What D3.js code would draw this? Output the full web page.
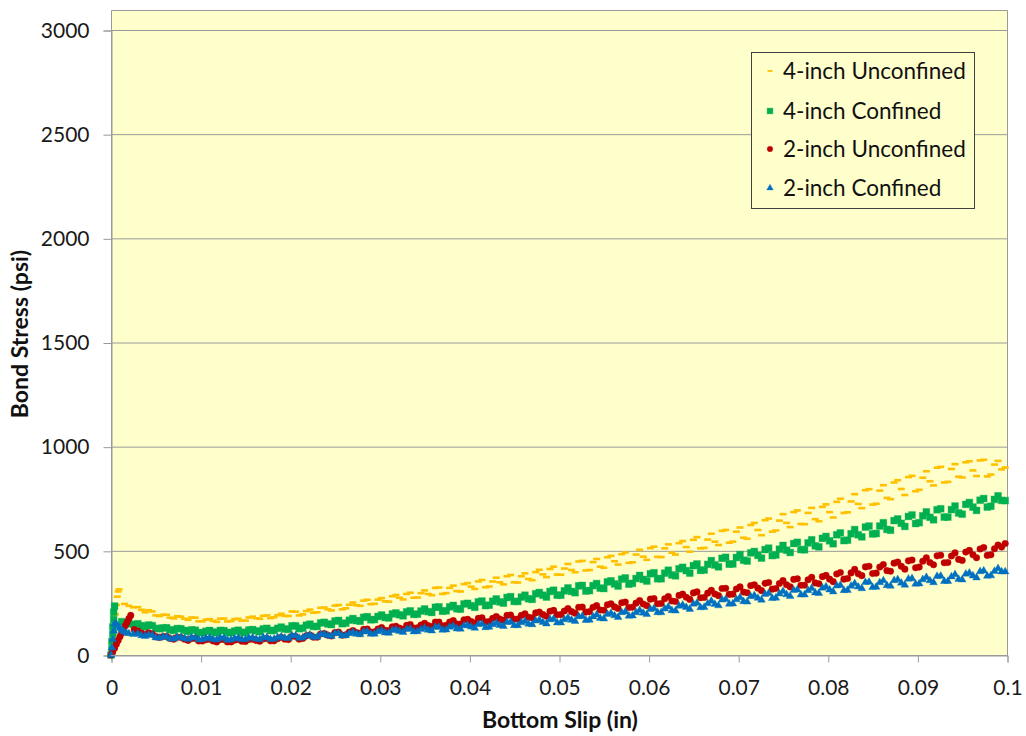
<!DOCTYPE html>
<html>
<head>
<meta charset="utf-8">
<script src="https://cdn.jsdelivr.net/npm/d3@7/dist/d3.min.js"></script>
<style>
  html, body { margin: 0; padding: 0; background: #ffffff; }
  svg { display: block; font-family: Lato, "Open Sans", sans-serif; }
</style>
</head>
<body>
<svg id="chart" width="1026" height="736"></svg>
<script>
// ---- series names and tick values ----
const seriesNames = ["4-inch Unconfined", "4-inch Confined", "2-inch Unconfined", "2-inch Confined"];
const xTicks = [0, 0.01, 0.02, 0.03, 0.04, 0.05, 0.06, 0.07, 0.08, 0.09, 0.1];
const xTickLabels = ["0", "0.01", "0.02", "0.03", "0.04", "0.05", "0.06", "0.07", "0.08", "0.09", "0.1"];
const yTicks = [0, 500, 1000, 1500, 2000, 2500, 3000];

// ---- initial loading branch of each test (slip in inches, bond stress in psi) ----
const unconf4StartSlip   = [0, 0.0001, 0.0002, 0.0003, 0.0004, 0.0005, 0.0006, 0.0007, 0.0008, 0.0009, 0.0015, 0.002, 0.0025];
const unconf4StartStress = [0, 30, 70, 110, 150, 195, 240, 280, 305, 315, 245, 236, 229];
const conf4StartSlip     = [0, 0.0001, 0.0001, 0.0002, 0.0002, 0.0003, 0.0003, 0.0004, 0.0012, 0.0016, 0.002, 0.0025];
const conf4StartStress   = [0, 30, 65, 100, 135, 170, 205, 235, 160, 155, 150, 147];
const unconf2StartSlip   = [0, 0.0002, 0.0004, 0.0006, 0.0008, 0.001, 0.0012, 0.0014, 0.0016, 0.0018, 0.002, 0.0022, 0.0026];
const unconf2StartStress = [0, 15, 33, 52, 70, 88, 105, 122, 140, 157, 175, 190, 122];
const conf2StartSlip     = [0, 0.0001, 0.0002, 0.0003, 0.0004, 0.0006, 0.0008, 0.001, 0.0012, 0.0014, 0.0017, 0.002, 0.0025];
const conf2StartStress   = [0, 35, 75, 115, 150, 148, 138, 128, 120, 113, 107, 103, 100];

// ---- slip readings after the peak, first pass (shared by all four tests) ----
const slipReadings = [
  0.003,0.0038,0.0046,0.0054,0.0062, 0.007,0.0078,0.0086,0.0094,0.0102,
  0.011,0.0118,0.0126,0.0134,0.0142, 0.015,0.0158,0.0166,0.0174,0.0182,
  0.019,0.0198,0.0206,0.0214,0.0222, 0.023,0.0238,0.0246,0.0254,0.0262,
  0.027,0.0278,0.0286,0.0294,0.0302, 0.031,0.0318,0.0326,0.0334,0.0342,
  0.035,0.0358,0.0366,0.0374,0.0382, 0.039,0.0398,0.0406,0.0414,0.0422,
  0.043,0.0438,0.0446,0.0454,0.0462, 0.047,0.0478,0.0486,0.0494,0.0502,
  0.051,0.0518,0.0526,0.0534,0.0542, 0.055,0.0558,0.0566,0.0574,0.0582,
  0.059,0.0598,0.0606,0.0614,0.0622, 0.063,0.0638,0.0646,0.0654,0.0662,
  0.067,0.0678,0.0686,0.0694,0.0702, 0.071,0.0718,0.0726,0.0734,0.0742,
  0.075,0.0758,0.0766,0.0774,0.0782, 0.079,0.0798,0.0806,0.0814,0.0822,
  0.083,0.0838,0.0846,0.0854,0.0862, 0.087,0.0878,0.0886,0.0894,0.0902,
  0.091,0.0918,0.0926,0.0934,0.0942, 0.095,0.0958,0.0966,0.0974,0.0982,
  0.099,0.0998
];
// second pass: readings taken between the first-pass readings
const slipReadingsB = [
  0.0034,0.0042,0.005,0.0058,0.0066, 0.0074,0.0082,0.009,0.0098,0.0106,
  0.0114,0.0122,0.013,0.0138,0.0146, 0.0154,0.0162,0.017,0.0178,0.0186,
  0.0194,0.0202,0.021,0.0218,0.0226, 0.0234,0.0242,0.025,0.0258,0.0266,
  0.0274,0.0282,0.029,0.0298,0.0306, 0.0314,0.0322,0.033,0.0338,0.0346,
  0.0354,0.0362,0.037,0.0378,0.0386, 0.0394,0.0402,0.041,0.0418,0.0426,
  0.0434,0.0442,0.045,0.0458,0.0466, 0.0474,0.0482,0.049,0.0498,0.0506,
  0.0514,0.0522,0.053,0.0538,0.0546, 0.0554,0.0562,0.057,0.0578,0.0586,
  0.0594,0.0602,0.061,0.0618,0.0626, 0.0634,0.0642,0.065,0.0658,0.0666,
  0.0674,0.0682,0.069,0.0698,0.0706, 0.0714,0.0722,0.073,0.0738,0.0746,
  0.0754,0.0762,0.077,0.0778,0.0786, 0.0794,0.0802,0.081,0.0818,0.0826,
  0.0834,0.0842,0.085,0.0858,0.0866, 0.0874,0.0882,0.089,0.0898,0.0906,
  0.0914,0.0922,0.093,0.0938,0.0946, 0.0954,0.0962,0.097,0.0978,0.0986,
  0.0994
];

// bond stress readings (psi), first pass
const unconf4Stress = [
  230,205,209,187,193, 176,184,169,179,162, 172,159,175,163,174, 165,184,174,190,181,
  198,187,208,195,218, 205,228,214,240,224, 252,236,265,246,273, 256,288,267,299,276,
  310,287,324,297,333, 305,345,317,360,329, 371,339,384,348,392, 359,409,374,424,385,
  437,397,452,408,461, 419,476,434,492,445, 505,457,520,470,531, 482,547,496,566,514,
  582,528,600,544,612, 558,634,575,655,598, 676,614,694,628,706, 642,723,660,750,685,
  772,705,796,726,815, 748,839,768,860,793, 882,814,903,831,916, 852,930,859,937,866,
  932,900
];
const conf4Stress = [
  150,135,141,126,131, 118,126,113,119,107, 118,107,117,107,119, 108,122,112,128,118,
  134,123,140,129,148, 137,157,146,166,153, 175,162,184,170,192, 178,202,188,212,196,
  221,204,231,212,238, 220,248,229,259,239, 269,249,280,257,287, 267,300,278,311,287,
  322,299,334,309,343, 319,356,331,370,344, 382,355,395,366,407, 380,421,393,437,408,
  453,423,469,437,482, 451,497,465,513,480, 526,492,541,505,553, 519,569,534,586,551,
  602,567,619,583,635, 599,653,617,672,635, 687,649,702,662,715, 676,732,694,751,714,
  764,741
];
const unconf2Stress = [
  115,98,102,84,89, 76,84,70,79,67, 76,63,74,63,75, 65,76,66,79,68,
  85,74,89,79,96, 85,103,91,110,97, 117,104,125,111,132, 117,138,123,146,130,
  152,136,158,142,165, 148,171,153,179,161, 185,166,192,173,198, 179,206,186,214,194,
  223,201,230,208,237, 215,246,223,254,229, 261,237,271,247,281, 257,292,267,303,276,
  311,285,320,292,327, 299,337,309,348,319, 357,327,366,335,373, 342,382,352,396,367,
  411,381,426,393,434, 402,446,412,456,422, 467,433,479,444,490, 454,502,467,516,481,
  528,535
];
const conf2Stress = [
  102,90,95,82,87, 77,85,75,83,74, 82,73,82,73,82, 74,83,74,84,77,
  88,80,92,83,96, 86,100,90,105,94, 109,98,113,101,118, 105,121,109,126,113,
  130,116,134,121,139, 125,143,129,149,134, 153,138,158,142,162, 146,168,150,173,155,
  179,162,186,168,193, 174,200,181,208,188, 215,195,223,204,232, 212,240,220,250,229,
  259,237,267,246,276, 255,286,264,296,274, 306,282,313,289,320, 296,328,304,335,311,
  343,319,350,326,357, 331,362,336,367,342, 373,348,379,354,386, 361,394,371,404,381,
  415,400
];

// bond stress readings (psi), second pass
const unconf4StressB = [
  217,215,190,193,179, 186,174,180,162,170, 164,174,161,172,165, 180,176,188,177,191,
  188,209,190,211,203, 226,219,237,219,241, 239,261,244,266,258, 282,275,293,275,297,
  293,322,293,322,307, 340,328,353,325,353, 349,378,349,378,365, 398,387,413,386,415,
  408,449,406,446,424, 469,450,484,442,482, 472,513,471,512,491, 537,518,553,512,554,
  544,596,539,592,563, 624,600,647,592,645, 634,686,629,682,652, 711,686,735,682,737,
  725,791,722,789,754, 828,797,854,786,851, 834,899,828,893,856, 925,886,934,857,914,
  891
];
const conf4StressB = [
  141,144,128,130,121, 127,118,121,107,114, 110,118,108,115,109, 120,116,125,117,128,
  125,140,126,143,137, 154,149,163,150,167, 165,181,169,185,180, 197,193,207,195,211,
  208,229,210,231,222, 245,237,255,237,258, 255,276,257,278,270, 294,287,305,287,308,
  305,332,307,333,321, 351,341,364,340,367, 363,390,366,393,384, 414,405,429,406,435,
  432,464,436,468,455, 490,478,506,477,508, 503,535,506,538,524, 560,548,577,549,582,
  577,614,581,619,603, 645,632,665,631,668, 661,697,662,698,682, 723,710,743,710,747,
  742
];
const unconf2StressB = [
  105,106,88,89,79, 85,76,79,67,73, 67,74,63,71,66, 75,70,77,68,78,
  76,90,76,92,85, 101,95,108,95,110, 108,123,110,125,119, 135,129,142,129,144,
  141,158,140,158,149, 169,161,176,159,176, 173,190,172,190,181, 202,194,210,193,211,
  208,229,206,229,216, 241,231,251,228,249, 245,268,246,270,259, 286,277,298,275,297,
  293,319,291,317,302, 333,321,344,316,343, 337,363,335,361,346, 376,364,389,364,394,
  390,423,391,422,405, 441,426,452,419,450, 444,476,443,475,459, 494,481,509,478,510,
  518
];
const conf2StressB = [
  94,97,83,87,78, 85,79,84,73,80, 75,82,72,79,74, 82,77,84,75,84,
  82,93,81,92,86, 99,94,103,92,103, 101,112,101,113,107, 119,114,123,112,123,
  120,134,120,134,126, 141,135,147,132,146, 143,157,142,156,149, 164,157,170,155,170,
  168,185,167,184,176, 196,189,204,187,204, 202,220,204,222,214, 235,229,245,228,247,
  244,265,245,266,257, 281,273,292,272,294, 290,311,289,310,299, 322,313,332,310,331,
  327,349,325,348,334, 358,346,365,341,362, 357,378,354,376,364, 389,380,401,379,402,
  400
];

// ---- assemble point lists ----
function pairs(xs, ys) { return xs.map((x, i) => ({ x: x, y: ys[i] })); }
const series = [
  { name: seriesNames[0], color: "#FFC000", marker: "dash",
    points: pairs(unconf4StartSlip, unconf4StartStress)
      .concat(pairs(slipReadings, unconf4Stress), pairs(slipReadingsB, unconf4StressB)) },
  { name: seriesNames[1], color: "#00B050", marker: "square",
    points: pairs(conf4StartSlip, conf4StartStress)
      .concat(pairs(slipReadings, conf4Stress), pairs(slipReadingsB, conf4StressB)) },
  { name: seriesNames[2], color: "#C00000", marker: "circle",
    points: pairs(unconf2StartSlip, unconf2StartStress)
      .concat(pairs(slipReadings, unconf2Stress), pairs(slipReadingsB, unconf2StressB)) },
  { name: seriesNames[3], color: "#0070C0", marker: "triangle",
    points: pairs(conf2StartSlip, conf2StartStress)
      .concat(pairs(slipReadings, conf2Stress), pairs(slipReadingsB, conf2StressB)) }
];

// ---- layout ----
const svg = d3.select("#chart");
const plot = { left: 111, right: 1007, top: 10, bottom: 655 };
const x = d3.scaleLinear().domain([0, 0.1]).range([plot.left, plot.right]);
const y = d3.scaleLinear().domain([0, 3000]).range([plot.bottom, 30]);

// plot background
svg.append("rect")
  .attr("x", plot.left).attr("y", plot.top)
  .attr("width", plot.right - plot.left).attr("height", plot.bottom - plot.top)
  .attr("fill", "#FFFFCC");

// horizontal gridlines
svg.append("g").selectAll("line").data(yTicks.filter(d => d > 0)).join("line")
  .attr("x1", plot.left).attr("x2", plot.right)
  .attr("y1", d => y(d) + 0.5).attr("y2", d => y(d) + 0.5)
  .attr("stroke", "#9a9a9a").attr("stroke-width", 1);

// plot frame (left, top and right edges)
svg.append("path")
  .attr("d", `M${plot.left + 0.5},${plot.bottom} V${plot.top + 0.5} H${plot.right + 0.5} V${plot.bottom}`)
  .attr("fill", "none").attr("stroke", "#9a9a9a").attr("stroke-width", 1);

// y axis
const yAxis = d3.axisLeft(y).tickValues(yTicks).tickSize(8).tickPadding(14).tickFormat(d3.format("d"));
const gy = svg.append("g").attr("transform", `translate(${plot.left + 0.5},0.5)`).call(yAxis);
gy.select(".domain").attr("stroke", "#9a9a9a");
gy.selectAll(".tick line").attr("stroke", "#9a9a9a");
gy.selectAll(".tick text").attr("font-family", "Lato, sans-serif").attr("font-size", 21).attr("fill", "#1a1a1a");

// x axis
const xAxis = d3.axisBottom(x).tickValues(xTicks).tickSize(7).tickPadding(18)
  .tickFormat((d, i) => xTickLabels[i]);
const gx = svg.append("g").attr("transform", `translate(0.5,${plot.bottom + 0.5})`).call(xAxis);
gx.select(".domain").attr("stroke", "#9a9a9a");
gx.selectAll(".tick line").attr("stroke", "#9a9a9a");
gx.selectAll(".tick text").attr("font-family", "Lato, sans-serif").attr("font-size", 21).attr("fill", "#1a1a1a");

// axis titles
svg.append("text")
  .attr("x", 560).attr("y", 728)
  .attr("text-anchor", "middle").attr("font-weight", "bold").attr("font-size", 23)
  .attr("fill", "#111").text("Bottom Slip (in)");
svg.append("text")
  .attr("transform", `translate(28,334) rotate(-90)`)
  .attr("text-anchor", "middle").attr("font-weight", "bold").attr("font-size", 23)
  .attr("fill", "#111").text("Bond Stress (psi)");

// ---- markers ----
function drawMarker(sel, kind, color, scale) {
  const s = scale || 1;
  if (kind === "dash") {
    sel.append("rect").attr("x", -3.5 * s).attr("y", -1.3 * s)
      .attr("width", 7 * s).attr("height", 2.6 * s).attr("fill", color);
  } else if (kind === "square") {
    sel.append("rect").attr("x", -3.4 * s).attr("y", -3.4 * s)
      .attr("width", 6.8 * s).attr("height", 6.8 * s).attr("fill", color)
      .attr("stroke", color).attr("stroke-opacity", 0.35).attr("stroke-width", 1);
  } else if (kind === "circle") {
    sel.append("circle").attr("r", 3.3 * s).attr("fill", color)
      .attr("stroke", color).attr("stroke-opacity", 0.35).attr("stroke-width", 1);
  } else {
    sel.append("path").attr("d", d3.symbol(d3.symbolTriangle, 26 * s * s)()).attr("fill", color)
      .attr("stroke", color).attr("stroke-opacity", 0.35).attr("stroke-width", 1);
  }
}

const marksLayer = svg.append("g");
series.forEach(s => {
  const g = marksLayer.append("g");
  s.points.forEach(p => {
    const m = g.append("g").attr("transform", `translate(${x(p.x)},${y(p.y)})`);
    drawMarker(m, s.marker, s.color);
  });
});

// bottom axis line kept above the markers
svg.append("line").attr("x1", plot.left).attr("x2", plot.right + 1)
  .attr("y1", plot.bottom + 0.5).attr("y2", plot.bottom + 0.5).attr("stroke", "#9a9a9a");

// ---- legend ----
const legend = svg.append("g").attr("transform", "translate(751,52)");
legend.append("rect").attr("x", 0.5).attr("y", 0.5).attr("width", 223).attr("height", 156)
  .attr("fill", "#FFFFCC").attr("stroke", "#404040").attr("stroke-width", 1);
const rowY = [19, 59, 97, 136];
series.forEach((s, i) => {
  const row = legend.append("g").attr("transform", `translate(19,${rowY[i]})`);
  drawMarker(row, s.marker, s.color, s.marker === "dash" ? 0.7 : 0.85);
  row.append("text").attr("x", 13).attr("y", 8).attr("font-size", 22.5)
    .attr("fill", "#111").text(s.name);
});
</script>
</body>
</html>
